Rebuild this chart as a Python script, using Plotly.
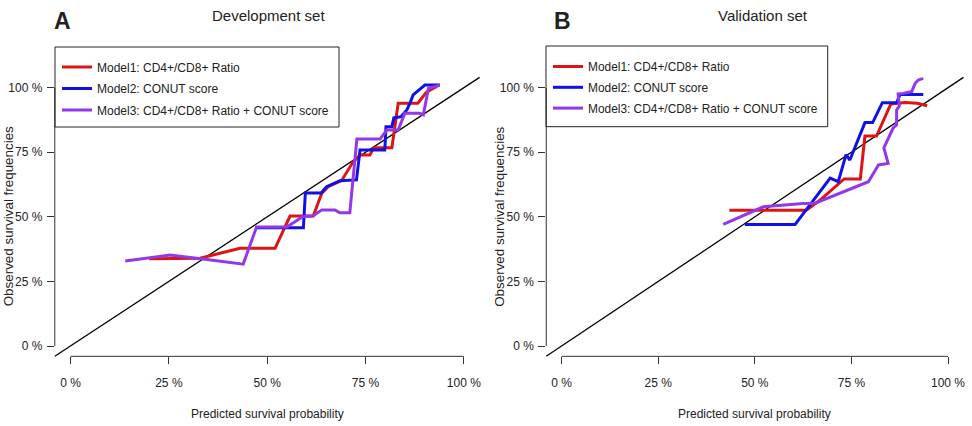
import plotly.graph_objects as go

# ---------------- data ----------------
tick_vals = [0, 0.25, 0.5, 0.75, 1.0]
tick_text = ["0 %", "25 %", "50 %", "75 %", "100 %"]

model_names = [
    "Model1: CD4+/CD8+ Ratio",
    "Model2: CONUT score",
    "Model3: CD4+/CD8+ Ratio + CONUT score",
]

# Development set (panel A)
dev_m1_pred = [0.200, 0.329, 0.431, 0.520, 0.558, 0.617, 0.639, 0.655, 0.689, 0.718,
               0.736, 0.761, 0.771, 0.817, 0.833, 0.883, 0.905, 0.932]
dev_m1_obs = [0.338, 0.340, 0.378, 0.378, 0.503, 0.503, 0.592, 0.617, 0.640, 0.712,
              0.739, 0.739, 0.768, 0.768, 0.940, 0.940, 0.983, 1.006]

dev_m2_pred = [0.469, 0.592, 0.597, 0.637, 0.651, 0.685, 0.727, 0.736, 0.799, 0.802,
               0.817, 0.822, 0.840, 0.855, 0.863, 0.871, 0.901, 0.939]
dev_m2_obs = [0.458, 0.458, 0.592, 0.592, 0.617, 0.640, 0.643, 0.759, 0.759, 0.849,
              0.849, 0.883, 0.888, 0.914, 0.940, 0.972, 1.010, 1.010]

dev_m3_pred = [0.139, 0.253, 0.337, 0.439, 0.473, 0.550, 0.591, 0.616, 0.639, 0.672,
               0.685, 0.710, 0.728, 0.787, 0.804, 0.833, 0.850, 0.888, 0.897, 0.910, 0.939]
dev_m3_obs = [0.329, 0.352, 0.337, 0.317, 0.461, 0.461, 0.501, 0.503, 0.527, 0.527,
              0.516, 0.516, 0.801, 0.801, 0.836, 0.836, 0.901, 0.901, 0.895, 0.998, 1.010]

# Validation set (panel B)
val_m1_pred = [0.434, 0.633, 0.669, 0.731, 0.773, 0.785, 0.815, 0.852, 0.889, 0.920, 0.946]
val_m1_obs = [0.526, 0.526, 0.565, 0.647, 0.647, 0.813, 0.813, 0.937, 0.943, 0.940, 0.930]

val_m2_pred = [0.474, 0.604, 0.695, 0.716, 0.736, 0.746, 0.785, 0.805, 0.830, 0.867, 0.876, 0.936]
val_m2_obs = [0.470, 0.470, 0.650, 0.636, 0.741, 0.720, 0.865, 0.865, 0.942, 0.942, 0.974, 0.974]

val_m3_pred = [0.418, 0.522, 0.625, 0.656, 0.794, 0.820, 0.845, 0.834, 0.858, 0.867,
               0.867, 0.874, 0.871, 0.884, 0.906, 0.915, 0.923, 0.936]
val_m3_obs = [0.471, 0.539, 0.552, 0.553, 0.636, 0.701, 0.707, 0.767, 0.844, 0.856,
              0.914, 0.929, 0.976, 0.978, 0.985, 1.017, 1.030, 1.036]

colors = ["#DC1414", "#1010E8", "#9338E8"]

# ---------------- figure ----------------
W, H = 972, 426
FONT = "Liberation Sans, Arial, Helvetica, sans-serif"
TXT = "#222222"

fig = go.Figure()

dev_series = [(dev_m1_pred, dev_m1_obs), (dev_m2_pred, dev_m2_obs), (dev_m3_pred, dev_m3_obs)]
val_series = [(val_m1_pred, val_m1_obs), (val_m2_pred, val_m2_obs), (val_m3_pred, val_m3_obs)]

for i, (xs, ys) in enumerate(dev_series):
    fig.add_trace(go.Scatter(x=xs, y=ys, mode="lines", name=model_names[i],
                             line=dict(color=colors[i], width=3),
                             xaxis="x", yaxis="y", legend="legend",
                             legendgroup=f"A{i}", hoverinfo="skip"))
for i, (xs, ys) in enumerate(val_series):
    fig.add_trace(go.Scatter(x=xs, y=ys, mode="lines", name=model_names[i],
                             line=dict(color=colors[i], width=3),
                             xaxis="x2", yaxis="y2", legend="legend2",
                             legendgroup=f"B{i}", hoverinfo="skip"))

def px_x(p):
    return p / W

def px_y(p):
    return 1 - p / H

ybot, ytop = px_y(356.33), px_y(77.37)
ax_common = dict(range=[-0.04, 1.04], showgrid=False, zeroline=False, showline=False,
                 tickmode="array", tickvals=tick_vals, ticktext=tick_text,
                 ticks="outside", ticklen=7, tickwidth=1, tickcolor="#333333",
                 tickfont=dict(family=FONT, size=12, color=TXT), automargin=False,
                 fixedrange=True)

fig.update_layout(
    width=W, height=H, margin=dict(l=0, r=0, t=0, b=0, pad=0),
    paper_bgcolor="white", plot_bgcolor="white", showlegend=True,
    xaxis=dict(ax_common, domain=[px_x(54.8), px_x(479.6)], anchor="y", ticklabelstandoff=8),
    yaxis=dict(ax_common, domain=[ybot, ytop], anchor="x", ticklabelstandoff=2),
    xaxis2=dict(ax_common, domain=[px_x(546.25), px_x(963.45)], anchor="y2", ticklabelstandoff=8),
    yaxis2=dict(ax_common, domain=[ybot, ytop], anchor="x2", ticklabelstandoff=2),
    legend=dict(x=px_x(57), y=px_y(52.5), xanchor="left", yanchor="top",
                bgcolor="rgba(0,0,0,0)", borderwidth=0, tracegroupgap=2.5,
                font=dict(family=FONT, size=12, color=TXT), traceorder="grouped"),
    legend2=dict(x=px_x(548), y=px_y(52), xanchor="left", yanchor="top",
                 bgcolor="rgba(0,0,0,0)", borderwidth=0, tracegroupgap=1.8,
                 font=dict(family=FONT, size=11.9, color=TXT), traceorder="grouped"),
)

shapes = []
for xa, ya in [("x", "y"), ("x2", "y2")]:
    # reference diagonal (perfect calibration) across the whole plot region
    shapes.append(dict(type="line", xref=f"{xa} domain", yref=f"{ya} domain",
                       x0=0, y0=0, x1=1, y1=1, line=dict(color="black", width=1.3),
                       layer="below"))
    # R-style axis lines spanning only the tick range
    shapes.append(dict(type="line", xref=f"{xa} domain", yref=ya, x0=0, x1=0,
                       y0=tick_vals[0], y1=tick_vals[-1],
                       line=dict(color="#333333", width=1)))
    shapes.append(dict(type="line", xref=xa, yref=f"{ya} domain", x0=tick_vals[0],
                       x1=tick_vals[-1], y0=0, y1=0, line=dict(color="#333333", width=1)))
# legend frames
shapes.append(dict(type="rect", xref="paper", yref="paper", x0=px_x(55), x1=px_x(339),
                   y0=px_y(127), y1=px_y(47), line=dict(color="#222222", width=1),
                   fillcolor="rgba(0,0,0,0)"))
shapes.append(dict(type="rect", xref="paper", yref="paper", x0=px_x(546), x1=px_x(827.7),
                   y0=px_y(126.7), y1=px_y(46), line=dict(color="#222222", width=1),
                   fillcolor="rgba(0,0,0,0)"))
fig.update_layout(shapes=shapes)

ann = []
def add_text(text, x, y, size, xref="paper", angle=0, bold=False):
    ann.append(dict(text=f"<b>{text}</b>" if bold else text, x=x, y=y, xref=xref,
                    yref="paper", xanchor="center", yanchor="middle", showarrow=False,
                    textangle=angle, font=dict(family=FONT, size=size, color=TXT)))

add_text("A", px_x(62), px_y(21), 23, bold=True)
add_text("B", px_x(562.3), px_y(21), 23, bold=True)
add_text("Development set", px_x(268.7), px_y(15.7), 15)
add_text("Validation set", px_x(763), px_y(15.7), 15)
add_text("Predicted survival probability", 0.5, px_y(413.5), 12, xref="x")
add_text("Predicted survival probability", 0.5, px_y(413.5), 12, xref="x2")
add_text("Observed survival frequencies", px_x(8.5), px_y(216.8), 13.4, angle=-90)
add_text("Observed survival frequencies", px_x(500), px_y(216.8), 13.4, angle=-90)
fig.update_layout(annotations=ann)

fig.write_html("out.html")
